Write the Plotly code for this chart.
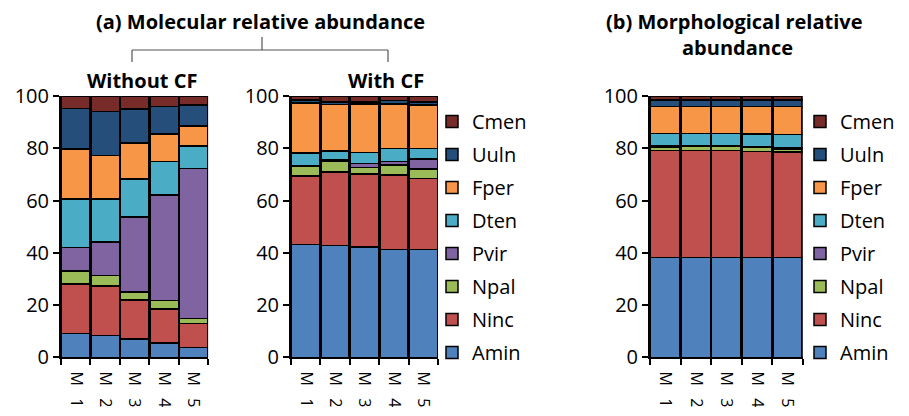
import plotly.graph_objects as go

# page body has an 8px default margin; lay out in page pixels and shift
OFF = 8
W, H = 909 - OFF, 416 - OFF

categories = ["M\u00a0\u00a0\u00a01", "M\u00a0\u00a0\u00a02", "M\u00a0\u00a0\u00a03", "M\u00a0\u00a0\u00a04", "M\u00a0\u00a0\u00a05"]
taxa = ["Amin", "Ninc", "Npal", "Pvir", "Dten", "Fper", "Uuln", "Cmen"]
colors = ["#4F81BD", "#C0504D", "#9BBB59", "#8064A2", "#4BACC6", "#F79646", "#264E7A", "#772C2A"]

# (a) Molecular relative abundance - without CF
without_Amin = [9.2, 8.3, 7.0, 5.4, 3.8]
without_Ninc = [18.9, 19.0, 14.9, 13.0, 9.1]
without_Npal = [4.9, 4.1, 3.1, 3.3, 2.0]
without_Pvir = [9.1, 12.7, 28.7, 40.5, 57.4]
without_Dten = [18.4, 16.5, 14.5, 12.7, 8.6]
without_Fper = [19.2, 16.7, 13.8, 10.6, 7.7]
without_Uuln = [15.6, 16.7, 13.0, 10.4, 8.0]
without_Cmen = [4.7, 6.0, 5.0, 4.1, 3.4]

# (a) Molecular relative abundance - with CF
with_Amin = [43.2, 42.7, 42.3, 41.3, 41.3]
with_Ninc = [26.2, 28.3, 27.9, 28.5, 27.2]
with_Npal = [3.6, 3.9, 2.5, 3.8, 3.6]
with_Pvir = [0.3, 0.6, 1.5, 1.4, 3.7]
with_Dten = [4.8, 3.5, 4.2, 5.0, 4.2]
with_Fper = [19.3, 17.8, 18.5, 16.9, 16.6]
with_Uuln = [1.1, 1.0, 0.9, 1.3, 1.2]
with_Cmen = [1.5, 2.2, 2.2, 1.8, 2.2]

# (b) Morphological relative abundance
morph_Amin = [38.1, 38.2, 38.2, 38.2, 38.2]
morph_Ninc = [41.0, 41.0, 41.0, 40.5, 40.3]
morph_Npal = [1.4, 1.4, 1.4, 1.6, 1.3]
morph_Pvir = [0.4, 0.4, 0.4, 0.4, 0.5]
morph_Dten = [4.8, 4.7, 4.7, 4.8, 5.0]
morph_Fper = [10.2, 10.3, 10.3, 10.5, 10.7]
morph_Uuln = [2.6, 2.5, 2.5, 2.5, 2.5]
morph_Cmen = [1.5, 1.5, 1.5, 1.5, 1.5]

panels = [
    [without_Amin, without_Ninc, without_Npal, without_Pvir, without_Dten, without_Fper, without_Uuln, without_Cmen],
    [with_Amin, with_Ninc, with_Npal, with_Pvir, with_Dten, with_Fper, with_Uuln, with_Cmen],
    [morph_Amin, morph_Ninc, morph_Npal, morph_Pvir, morph_Dten, morph_Fper, morph_Uuln, morph_Cmen],
]

FONT = "Open Sans, Calibri, Carlito, sans-serif"

def px(x):
    return (x - OFF) / W

def py(y):
    return 1 - (y - OFF) / H

fig = go.Figure()
axis_names = [("x", "y"), ("x2", "y2"), ("x3", "y3")]
legend_for = [None, "legend", "legend2"]

for p, series in enumerate(panels):
    xa, ya = axis_names[p]
    for i, (name, col, vals) in enumerate(zip(taxa, colors, series)):
        kw = dict(
            x=categories, y=vals, name=name, xaxis=xa, yaxis=ya,
            marker=dict(color=col, line=dict(color="black", width=1.5)),
            hovertemplate=name + ": %{y}<extra></extra>",
        )
        if legend_for[p] is None:
            kw["showlegend"] = False
        else:
            kw["legend"] = legend_for[p]
            kw["legendgroup"] = legend_for[p] + name
            kw["legendrank"] = 100 - i
        fig.add_trace(go.Bar(**kw))

ydom = [py(357.3), py(96)]
xdoms = [[px(61), px(208.3)], [px(291), px(438)], [px(650), px(802.7)]]

common_x = dict(
    type="category", showline=True, linecolor="black", linewidth=2,
    ticks="outside", tickson="boundaries", ticklen=6, tickcolor="black", tickwidth=1.5,
    tickangle=90, tickfont=dict(family=FONT, size=16, color="black"),
    ticklabelstandoff=9,
    showgrid=False, zeroline=False, fixedrange=True, automargin=False,
)
common_y = dict(
    range=[0, 100], dtick=20, showline=True, linecolor="black", linewidth=2,
    ticks="outside", ticklen=6, tickcolor="black", tickwidth=1.5,
    tickfont=dict(family=FONT, size=20, color="black"),
    showgrid=False, zeroline=False, fixedrange=True, automargin=False,
)

layout = dict(
    width=W, height=H,
    margin=dict(l=0, r=0, t=0, b=0, autoexpand=False),
    paper_bgcolor="white", plot_bgcolor="#9a9a9a",
    barmode="stack", bargap=0.04,
    font=dict(family=FONT, color="black"),
)
for i, (xa, ya) in enumerate(axis_names):
    xk = "xaxis" if i == 0 else f"xaxis{i+1}"
    yk = "yaxis" if i == 0 else f"yaxis{i+1}"
    layout[xk] = dict(common_x, domain=xdoms[i], anchor=ya)
    layout[yk] = dict(common_y, domain=ydom, anchor=xa)

leg_common = dict(
    traceorder="grouped", tracegroupgap=4,
    font=dict(family=FONT, size=20, color="black"),
    bgcolor="rgba(0,0,0,0)", xanchor="left", yanchor="top",
)
layout["legend"] = dict(leg_common, x=px(432), y=py(102))
layout["legend2"] = dict(leg_common, x=px(800), y=py(102))

fig.update_layout(**layout)

def ann(text, x, y, size=20, bold=True):
    fig.add_annotation(
        text=f"<b>{text}</b>" if bold else text, x=px(x), y=py(y),
        xref="paper", yref="paper", showarrow=False,
        xanchor="center", yanchor="middle",
        font=dict(family=FONT, size=size, color="black"),
    )

ann("(a) Molecular relative abundance", 260, 21)
ann("Without CF", 142, 80)
ann("With CF", 386, 80)
ann("(b) Morphological relative", 734, 21)
ann("abundance", 737, 48)

line_style = dict(color="#555555", width=1.2)
for (x0, y0, x1, y1) in [(262, 37, 262, 50), (132, 50, 388, 50), (132, 50, 132, 62), (388, 50, 388, 62)]:
    fig.add_shape(type="line", xref="paper", yref="paper",
                  x0=px(x0), y0=py(y0), x1=px(x1), y1=py(y1), line=line_style)

fig.write_html("out.html")
